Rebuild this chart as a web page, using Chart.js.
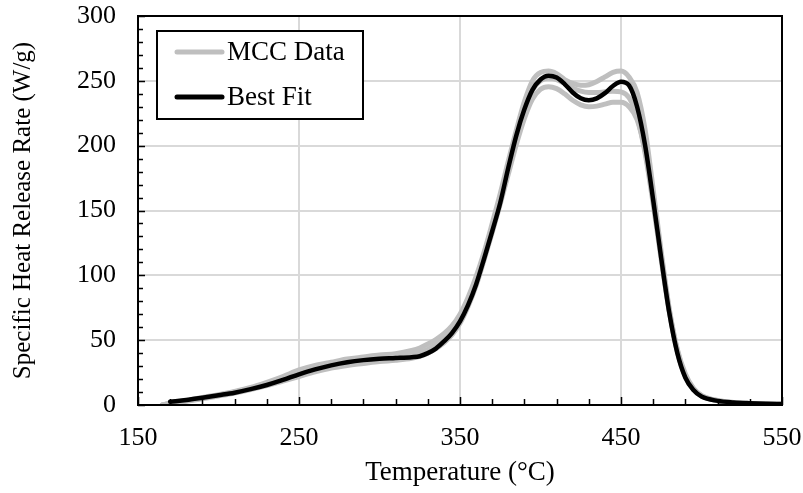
<!DOCTYPE html>
<html>
<head>
<meta charset="utf-8">
<script src="https://cdn.jsdelivr.net/npm/chart.js@4/dist/chart.umd.min.js"></script>
<style>
  html, body { margin: 0; padding: 0; background: #fff; }
  #wrap { width: 803px; height: 493px; }
</style>
</head>
<body>
<div id="wrap"><canvas id="c" width="803" height="493"></canvas></div>
<script>
// Temperature grid (°C) shared by all series
const temperature = [165,170,180,190,200,210,220,230,240,250,260,270,280,290,300,310,320,325,330,335,340,345,350,355,360,365,370,375,380,385,390,395,400,405,410,415,420,425,430,435,440,445,450,455,460,465,470,475,480,485,490,495,500,510,520,530,540,550];

// Microscale combustion calorimeter replicates (W/g)
const mccRun1 = [0,1.5,3.5,5.8,8,10.5,13.5,17.5,22,27,30.5,33,35.5,37,38.5,39.5,42,44,47,50.5,55,61,70,83,99,118,140,163,188,212,234,250,256.5,257.5,255.5,251,248,246.5,247,249.5,253,256.5,257.5,253,241,212,166,118,74,43,24,13,7.5,3.5,2,1,0.6,0.4];
const mccRun2 = [0,1.2,3.2,5.4,7.6,10,13,16.5,21,25.5,29,31.5,33.5,35,36,37,39,40.5,43,46.5,51,57.5,66,79,95,115,137,160,185,209,229,243,250,252,251,248,244.5,242,241,241,241.5,242,241.5,237,222,194,155,112,72,41,22,12,7,3.3,1.8,1,0.7,0.5];
const mccRun3 = [0,1,2.8,4.8,7,9.3,12,15,18.5,22,25.5,28.5,30.5,32,33.5,34.5,36,37.5,40,43.5,48,54,63,76,92,112,133,155,178,201,221,236,243.5,245.5,244,240,235,231.5,230,230.5,232,233.5,233.5,230,220,196,158,115,73,42,23,12.5,7,3.3,1.8,1,0.7,0.5];

// Model fit (W/g), starting at 170 °C
const fitTemperature = temperature.slice(1);
const bestFit = [2.5,3.8,5.6,7.5,9.5,12.2,15.4,19.3,23.7,27.5,30.6,33,34.6,35.6,36.2,36.9,37.6,40,43.5,49,55.5,64.5,77,93,113,134,156,183,208,228,243,251,254,252.5,247.5,241,236.5,235,236.5,240.5,246,249.3,246.5,230,200,158,113,71,40,21,11.5,6.5,3.2,2,1.4,1,0.8];

const xTicks = [150, 250, 350, 450, 550];
const yTicks = [0, 50, 100, 150, 200, 250, 300];

const labels = { mcc: 'MCC Data', fit: 'Best Fit' };
const grey = '#bfbfbf';
const FONT = '"Liberation Serif", "Times New Roman", serif';

const pts = (xs, ys) => xs.map((x, i) => ({ x, y: ys[i] }));

function series(label, xs, ys, color, width, order) {
  return {
    label, data: pts(xs, ys), borderColor: color, backgroundColor: color,
    borderWidth: width, pointRadius: 0, pointHoverRadius: 0, fill: false,
    cubicInterpolationMode: 'monotone', order, borderCapStyle: 'round', borderJoinStyle: 'round'
  };
}

// Frame, inward tick marks and the boxed legend
const decorations = {
  id: 'decorations',
  afterDatasetsDraw(chart) {
    const { ctx, chartArea: a, scales: { x, y } } = chart;
    ctx.save();
    ctx.strokeStyle = '#000';
    ctx.lineWidth = 2;
    ctx.strokeRect(a.left, a.top, a.right - a.left, a.bottom - a.top);

    ctx.lineWidth = 1.5;
    ctx.beginPath();
    for (let v = 0; v <= 300; v += 10) {
      const py = Math.round(y.getPixelForValue(v)) + 0.5;
      const len = v % 50 === 0 ? 7 : 5;
      ctx.moveTo(a.left, py); ctx.lineTo(a.left + len, py);
    }
    for (let t = 150; t <= 550; t += 20) {
      const px = Math.round(x.getPixelForValue(t)) + 0.5;
      const len = (t - 150) % 100 === 0 ? 8 : 6;
      ctx.moveTo(px, a.bottom); ctx.lineTo(px, a.bottom - len);
    }
    ctx.stroke();

    // legend
    const bx = 157, by = 31, bw = 206, bh = 88;
    ctx.fillStyle = '#fff';
    ctx.fillRect(bx, by, bw, bh);
    ctx.lineWidth = 2;
    ctx.strokeRect(bx, by, bw, bh);
    const entries = [[labels.mcc, grey, 52], [labels.fit, '#000', 97]];
    ctx.font = '27px ' + FONT;
    ctx.textBaseline = 'middle';
    ctx.textAlign = 'left';
    for (const [txt, col, ly] of entries) {
      ctx.strokeStyle = col;
      ctx.lineWidth = 5;
      ctx.lineCap = 'round';
      ctx.beginPath(); ctx.moveTo(177, ly); ctx.lineTo(222, ly); ctx.stroke();
      ctx.fillStyle = '#000';
      ctx.fillText(txt, 227, ly + 1);
    }
    ctx.restore();
  }
};

new Chart(document.getElementById('c'), {
  type: 'line',
  data: {
    datasets: [
      series(labels.fit, fitTemperature, bestFit, '#000', 4.5, 0),
      series(labels.mcc, temperature, mccRun1, grey, 5, 1),
      series(labels.mcc, temperature, mccRun2, grey, 5, 1),
      series(labels.mcc, temperature, mccRun3, grey, 5, 1)
    ]
  },
  options: {
    responsive: false,
    animation: false,
    devicePixelRatio: 1,
    layout: { padding: { top: 16, right: 21, left: 0, bottom: 0 } },
    plugins: { legend: { display: false }, tooltip: { enabled: false } },
    scales: {
      x: {
        type: 'linear', min: 150, max: 550,
        afterBuildTicks: s => { s.ticks = xTicks.map(v => ({ value: v })); },
        afterFit: s => { s.height = 88; s.paddingLeft = 0; s.paddingRight = 0; },
        grid: { color: ctx => (ctx.tick && (ctx.tick.value === 150 || ctx.tick.value === 550)) ? 'rgba(0,0,0,0)' : '#d9d9d9', lineWidth: 2, drawTicks: false },
        border: { display: false },
        ticks: { color: '#000', padding: 18, font: { family: FONT, size: 26 }, maxRotation: 0 },
        title: { display: true, text: 'Temperature (°C)', color: '#000', font: { family: FONT, size: 27 }, padding: { top: 1 } }
      },
      y: {
        min: 0, max: 300,
        afterBuildTicks: s => { s.ticks = yTicks.map(v => ({ value: v })); },
        afterFit: s => { s.width = 138; s.paddingTop = 0; s.paddingBottom = 0; },
        grid: { color: ctx => (ctx.tick && (ctx.tick.value === 0 || ctx.tick.value === 300)) ? 'rgba(0,0,0,0)' : '#d9d9d9', lineWidth: 2, drawTicks: false },
        border: { display: false },
        ticks: { color: '#000', padding: 22, font: { family: FONT, size: 26 } },
        title: { display: true, text: 'Specific Heat Release Rate (W/g)', color: '#000', font: { family: FONT, size: 25 }, padding: { top: 8, bottom: 0 } }
      }
    }
  },
  plugins: [decorations]
});
</script>
</body>
</html>
